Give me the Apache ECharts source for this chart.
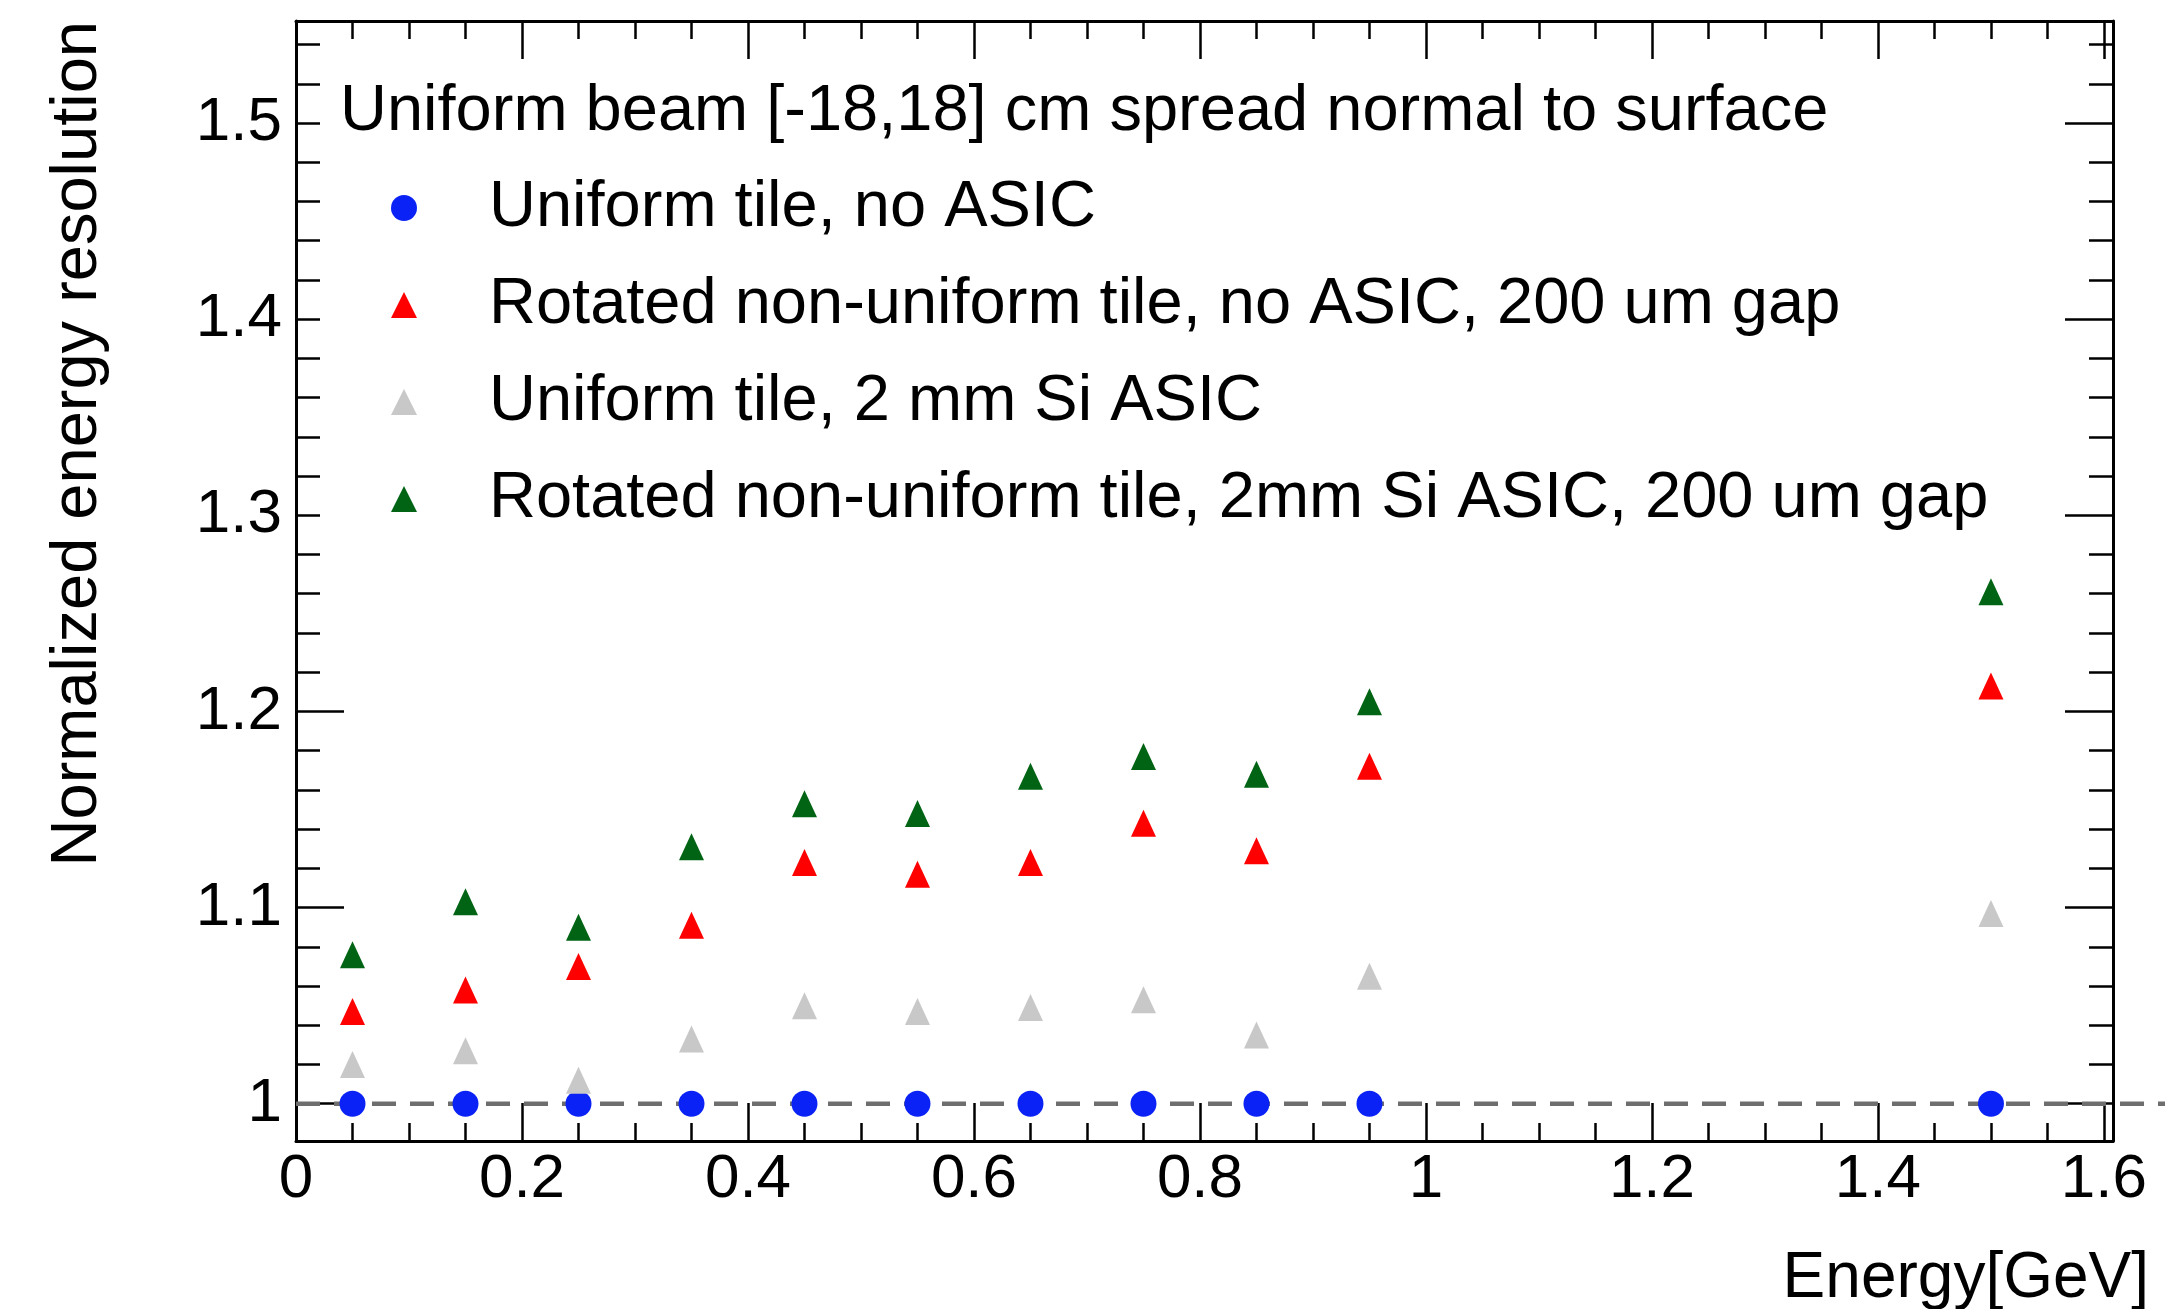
<!DOCTYPE html>
<html>
<head>
<meta charset="utf-8">
<title>Normalized energy resolution vs energy</title>
<script src="https://cdn.jsdelivr.net/npm/echarts@6/dist/echarts.min.js"></script>
<style>
	html, body { margin: 0; padding: 0; background: #fff; }
	#main { width: 2177px; height: 1309px; }
</style>
</head>
<body>
<div id="main"></div>
<script>
'use strict';
// beam energies [GeV]
var energy = [0.05, 0.15, 0.25, 0.35, 0.45, 0.55, 0.65, 0.75, 0.85, 0.95, 1.5];
// normalized resolution per configuration
var uniformNoAsic = [1, 1, 1, 1, 1, 1, 1, 1, 1, 1, 1];
var rotatedNoAsic = [1.047, 1.058, 1.070, 1.091, 1.123, 1.117, 1.123, 1.143, 1.129, 1.172, 1.213];
var uniformSiAsic = [1.020, 1.027, 1.012, 1.033, 1.050, 1.047, 1.049, 1.053, 1.035, 1.065, 1.097];
var rotatedSiAsic = [1.076, 1.103, 1.090, 1.131, 1.153, 1.148, 1.167, 1.177, 1.168, 1.205, 1.261];
var seriesNames = [
	'Uniform tile, no ASIC',
	'Rotated non-uniform tile, no ASIC, 200 um gap',
	'Uniform tile, 2 mm Si ASIC',
	'Rotated non-uniform tile, 2mm Si ASIC, 200 um gap'
];
var headerText = 'Uniform beam [-18,18] cm spread normal to surface';
// dashed reference line at 1 (runs a bit past the frame, like the original)
var refLineX = [0, 1.654];
var refLineY = [1, 1];
// axis ticks
var xMajorTicks = [0, 0.2, 0.4, 0.6, 0.8, 1, 1.2, 1.4, 1.6];
var xMinorTicks = [0.05, 0.1, 0.15, 0.25, 0.3, 0.35, 0.45, 0.5, 0.55, 0.65, 0.7, 0.75,
	0.85, 0.9, 0.95, 1.05, 1.1, 1.15, 1.25, 1.3, 1.35, 1.45, 1.5, 1.55];
var yMajorTicks = [1, 1.1, 1.2, 1.3, 1.4, 1.5];
var yMinorTicks = [1.02, 1.04, 1.06, 1.08, 1.12, 1.14, 1.16, 1.18, 1.22, 1.24, 1.26, 1.28,
	1.32, 1.34, 1.36, 1.38, 1.42, 1.44, 1.46, 1.48, 1.52, 1.54];

var X_MIN = 0, X_MAX = 1.608, X_MAX_WIDE = 1.654;
var Y_MIN = 0.981, Y_MAX = 1.552;
var FONT = '"Liberation Sans", Arial, Helvetica, sans-serif';

var CIRCLE_ICON = 'path://M0,10A10,10,0,1,1,20,10A10,10,0,1,1,0,10Z';
var TRIANGLE_ICON = 'path://M10,0L20,20L0,20Z';

function pairs(xs, ys) {
	return xs.map(function(x, i) { return [x, ys[i]]; });
}

function xAxisDef(position, ticks, len, showLine, showLabel) {
	return {
		type: 'value', gridIndex: 0, position: position, min: X_MIN, max: X_MAX,
		axisLine: { show: showLine, onZero: false, lineStyle: { color: '#000', width: 3 } },
		axisTick: { show: true, inside: true, length: len, customValues: ticks,
			lineStyle: { color: '#000', width: 2.5 } },
		axisLabel: { show: showLabel, customValues: ticks, margin: 8,
			fontSize: 62, fontFamily: FONT, color: '#000' },
		splitLine: { show: false }
	};
}

function yAxisDef(position, ticks, len, showLine, showLabel) {
	return {
		type: 'value', gridIndex: 0, position: position, min: Y_MIN, max: Y_MAX,
		axisLine: { show: showLine, onZero: false, lineStyle: { color: '#000', width: 3 } },
		axisTick: { show: true, inside: true, length: len, customValues: ticks,
			lineStyle: { color: '#000', width: 2.5 } },
		axisLabel: { show: showLabel, customValues: ticks, margin: 14,
			fontSize: 62, fontFamily: FONT, color: '#000' },
		splitLine: { show: false }
	};
}

function hiddenAxis(min, max) {
	return {
		type: 'value', gridIndex: 1, min: min, max: max, show: false,
		axisLine: { show: false, onZero: false }, axisTick: { show: false },
		axisLabel: { show: false }, splitLine: { show: false }
	};
}

function scatterDef(name, ys, symbol, size, color) {
	return {
		name: name, type: 'scatter', xAxisIndex: 0, yAxisIndex: 0,
		symbol: symbol, symbolSize: size,
		itemStyle: { color: color, opacity: 1 },
		data: pairs(energy, ys), z: 3
	};
}

var chart = echarts.init(document.getElementById('main'));

var option = {
	animation: false,
	backgroundColor: '#fff',
	grid: [
		{ left: 296, right: 64, top: 21, bottom: 168, outerBoundsMode: 'none' },
		// same vertical scale, wider to the right for the reference line
		{ left: 296, right: 12, top: 21, bottom: 168, outerBoundsMode: 'none' }
	],
	title: {
		text: headerText, left: 340, top: 77, padding: 0,
		textStyle: { fontSize: 65, fontWeight: 'normal', fontFamily: FONT, color: '#000', lineHeight: 70 }
	},
	legend: {
		orient: 'vertical', left: 391, top: 173, padding: 0,
		itemWidth: 160, itemHeight: 26, itemGap: 27,
		selectedMode: false,
		textStyle: { fontSize: 65, fontFamily: FONT, color: '#000', lineHeight: 70 },
		data: [
			{ name: seriesNames[0], icon: CIRCLE_ICON },
			{ name: seriesNames[1], icon: TRIANGLE_ICON },
			{ name: seriesNames[2], icon: TRIANGLE_ICON },
			{ name: seriesNames[3], icon: TRIANGLE_ICON }
		]
	},
	xAxis: [
		xAxisDef('bottom', xMajorTicks, 38, true, true),
		xAxisDef('bottom', xMinorTicks, 18, false, false),
		xAxisDef('top', xMajorTicks, 38, true, false),
		xAxisDef('top', xMinorTicks, 18, false, false),
		hiddenAxis(X_MIN, X_MAX_WIDE)
	],
	yAxis: [
		yAxisDef('left', yMajorTicks, 48, true, true),
		yAxisDef('left', yMinorTicks, 24, false, false),
		yAxisDef('right', yMajorTicks, 48, true, false),
		yAxisDef('right', yMinorTicks, 24, false, false),
		hiddenAxis(Y_MIN, Y_MAX)
	],
	graphic: [
		// white legend pad (covers the inner tick ends like the original)
		{ type: 'rect', z: 1, silent: true,
			shape: { x: 320, y: 60, width: 1740, height: 475 },
			style: { fill: '#fff' } },
		{ type: 'text', z: 5, x: 78, y: 21, rotation: Math.PI / 2, silent: true,
			style: { text: 'Normalized energy resolution', font: '65px ' + FONT, fill: '#000',
				align: 'right', verticalAlign: 'middle', textAlign: 'right', textVerticalAlign: 'middle' } },
		{ type: 'text', z: 5, x: 2149, y: 1279, silent: true,
			style: { text: 'Energy[GeV]', font: '64px ' + FONT, fill: '#000',
				align: 'right', verticalAlign: 'middle', textAlign: 'right', textVerticalAlign: 'middle' } }
	],
	series: [
		{
			name: 'ref', type: 'line', xAxisIndex: 4, yAxisIndex: 4,
			data: pairs(refLineX, refLineY), symbol: 'none', clip: false, silent: true, z: 2,
			lineStyle: { color: '#6e6e6e', width: 4.5, type: [24, 14] }
		},
		scatterDef(seriesNames[0], uniformNoAsic, 'circle', 26, '#0a22f5'),
		scatterDef(seriesNames[1], rotatedNoAsic, 'triangle', [25, 27], '#ff0000'),
		scatterDef(seriesNames[2], uniformSiAsic, 'triangle', [25, 27], '#c8c8c8'),
		scatterDef(seriesNames[3], rotatedSiAsic, 'triangle', [25, 27], '#006414')
	]
};

chart.setOption(option);
</script>
</body>
</html>
